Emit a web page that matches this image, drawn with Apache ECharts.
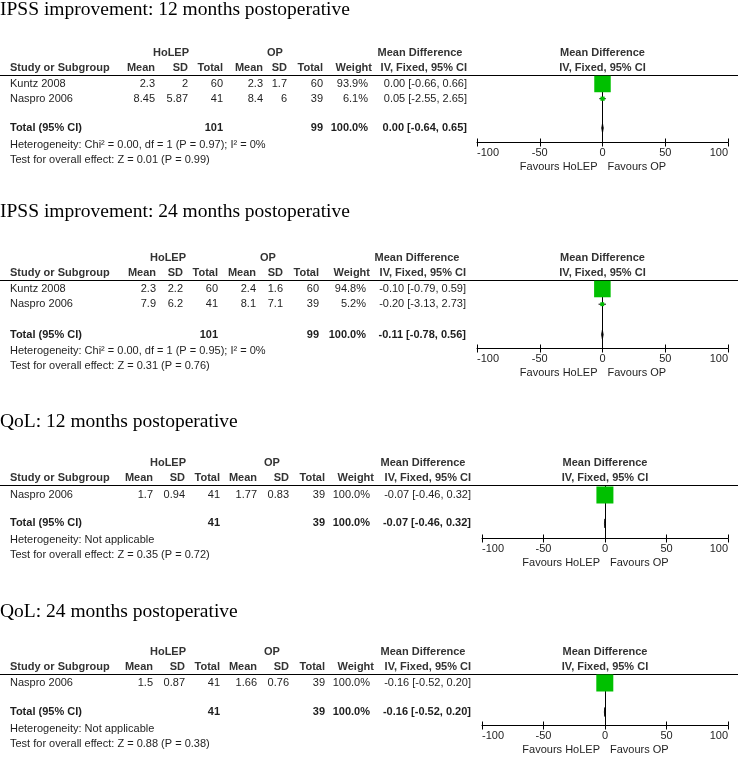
<!DOCTYPE html>
<html>
<head>
<meta charset="utf-8">
<script src="https://cdn.jsdelivr.net/npm/echarts@6/dist/echarts.min.js"></script>
<style>
  html, body { margin: 0; padding: 0; background: #fff; }
  #chart { width: 738px; height: 763px; }
</style>
</head>
<body>
<div id="chart"></div>
<script>
// data (one entry per panel)
const titles = [
  'IPSS improvement: 12 months postoperative',
  'IPSS improvement: 24 months postoperative',
  'QoL: 12 months postoperative',
  'QoL: 24 months postoperative'
]
const studyNames = [['Kuntz 2008', 'Naspro 2006'], ['Kuntz 2008', 'Naspro 2006'], ['Naspro 2006'], ['Naspro 2006']]
const holepMean = [[2.3, 8.45], [2.3, 7.9], [1.7], [1.5]]
const holepSd = [[2, 5.87], [2.2, 6.2], [0.94], [0.87]]
const holepTotal = [[60, 41], [60, 41], [41], [41]]
const opMean = [[2.3, 8.4], [2.4, 8.1], [1.77], [1.66]]
const opSd = [[1.7, 6], [1.6, 7.1], [0.83], [0.76]]
const opTotal = [[60, 39], [60, 39], [39], [39]]
const weights = [[93.9, 6.1], [94.8, 5.2], [100], [100]]
const meanDiff = [[0.00, 0.05], [-0.10, -0.20], [-0.07], [-0.16]]
const ciLow = [[-0.66, -2.55], [-0.79, -3.13], [-0.46], [-0.52]]
const ciHigh = [[0.66, 2.65], [0.59, 2.73], [0.32], [0.20]]
const totalHolep = [101, 101, 41, 41]
const totalOp = [99, 99, 39, 39]
const pooledMd = [0.00, -0.11, -0.07, -0.16]
const pooledLow = [-0.64, -0.78, -0.46, -0.52]
const pooledHigh = [0.65, 0.56, 0.32, 0.20]
const heterogeneity = [
  'Heterogeneity: Chi² = 0.00, df = 1 (P = 0.97); I² = 0%',
  'Heterogeneity: Chi² = 0.00, df = 1 (P = 0.95); I² = 0%',
  'Heterogeneity: Not applicable',
  'Heterogeneity: Not applicable'
]
const overallTest = [
  'Test for overall effect: Z = 0.01 (P = 0.99)',
  'Test for overall effect: Z = 0.31 (P = 0.76)',
  'Test for overall effect: Z = 0.35 (P = 0.72)',
  'Test for overall effect: Z = 0.88 (P = 0.38)'
]
const axisMin = -100
const axisMax = 100
const axisStep = 50

// layout per panel (pixels)
const layout = [
  { titleY: 10, lineY: 75.5, axisY: 142.5, rowY: 84, rowPx: 14.7, axisL: 477, cols: [155, 188, 223, 263, 287, 323, 368, 467], holep: 171, op: 275, mdC: 420 },
  { titleY: 212, lineY: 280.5, axisY: 348.5, rowY: 289, rowPx: 15.2, axisL: 477, cols: [156, 183, 218, 256, 283, 319, 366, 466], holep: 168, op: 268, mdC: 417 },
  { titleY: 422, lineY: 485.5, axisY: 538.5, rowY: 495, rowPx: 14.2, axisL: 482, cols: [153, 185, 220, 257, 289, 325, 370, 471], holep: 168, op: 272, mdC: 423 },
  { titleY: 612, lineY: 674.5, axisY: 725.5, rowY: 683, rowPx: 14.5, axisL: 482, cols: [153, 185, 220, 257, 289, 325, 370, 471], holep: 168, op: 272, mdC: 423 }
]

const GREEN = '#00c000'
const TXT = '#1e1e1e'
const F = "11px 'Liberation Sans', Arial, sans-serif"
const FB = "bold 11px 'Liberation Sans', Arial, sans-serif"

const chart = echarts.init(document.getElementById('chart'))

const txt = (x, y, text, align, font, fill) => ({
  type: 'text', x, y, silent: true,
  style: { text, font: font || F, fill: fill || TXT, textAlign: align || 'left', textVerticalAlign: 'middle' }
})

const graphics = []
const grids = []
const xAxes = []
const yAxes = []
const series = []

const fmt = v => v.toFixed(2)
const ciText = (m, l, h) => fmt(m) + ' [' + fmt(l) + ', ' + fmt(h) + ']'

titles.forEach((title, p) => {
  const L = layout[p]
  const c = L.cols
  const n = studyNames[p].length
  const totalIdx = n + 1
  const plotC = (L.axisL + 728) / 2

  graphics.push(txt(0, L.titleY, title, 'left', "19.5px 'Liberation Serif', 'Times New Roman', serif", '#000'))

  // header rows
  const h1 = L.lineY - 23
  const h2 = L.lineY - 7.5
  graphics.push(txt(L.holep, h1, 'HoLEP', 'center', FB, '#333'))
  graphics.push(txt(L.op, h1, 'OP', 'center', FB, '#333'))
  graphics.push(txt(L.mdC, h1, 'Mean Difference', 'center', FB, '#333'))
  graphics.push(txt(plotC, h1, 'Mean Difference', 'center', FB, '#333'))
  graphics.push(txt(10, h2, 'Study or Subgroup', 'left', FB, '#333'))
  const heads = ['Mean', 'SD', 'Total', 'Mean', 'SD', 'Total', 'Weight']
  heads.forEach((h, i) => graphics.push(txt(c[i] + (i === 6 ? 4 : 0), h2, h, 'right', FB, '#333')))
  graphics.push(txt(c[7], h2, 'IV, Fixed, 95% CI', 'right', FB, '#333'))
  graphics.push(txt(plotC, h2, 'IV, Fixed, 95% CI', 'center', FB, '#333'))
  graphics.push({
    type: 'line', silent: true,
    shape: { x1: 0, y1: L.lineY, x2: 738, y2: L.lineY },
    style: { stroke: '#000', lineWidth: 1 }
  })

  // study rows
  studyNames[p].forEach((name, i) => {
    const y = L.rowY + i * L.rowPx
    const vals = [holepMean[p][i], holepSd[p][i], holepTotal[p][i], opMean[p][i], opSd[p][i], opTotal[p][i]]
    graphics.push(txt(10, y, name))
    vals.forEach((v, k) => graphics.push(txt(c[k], y, String(v), 'right')))
    graphics.push(txt(c[6], y, weights[p][i].toFixed(1) + '%', 'right'))
    graphics.push(txt(c[7], y, ciText(meanDiff[p][i], ciLow[p][i], ciHigh[p][i]), 'right'))
  })

  // total row
  const ty = L.rowY + totalIdx * L.rowPx
  graphics.push(txt(10, ty, 'Total (95% CI)', 'left', FB))
  graphics.push(txt(c[2], ty, String(totalHolep[p]), 'right', FB))
  graphics.push(txt(c[5], ty, String(totalOp[p]), 'right', FB))
  graphics.push(txt(c[6], ty, '100.0%', 'right', FB))
  graphics.push(txt(c[7], ty, ciText(pooledMd[p], pooledLow[p], pooledHigh[p]), 'right', FB))
  graphics.push(txt(10, ty + 16.5, heterogeneity[p]))
  graphics.push(txt(10, ty + 31.5, overallTest[p]))

  // favours labels
  const zeroX = plotC
  graphics.push(txt(zeroX - 5, L.axisY + 24, 'Favours HoLEP', 'right'))
  graphics.push(txt(zeroX + 5, L.axisY + 24, 'Favours OP', 'left'))

  // plot area
  const yMin = -(L.rowY - L.lineY) / L.rowPx
  const yMax = yMin + (L.axisY - L.lineY) / L.rowPx
  grids.push({ left: L.axisL, right: 10, top: L.lineY, height: L.axisY - L.lineY })
  xAxes.push({
    type: 'value', gridIndex: p, position: 'bottom',
    min: axisMin, max: axisMax, interval: axisStep,
    splitLine: { show: false },
    axisLine: { onZero: false, lineStyle: { color: '#000', width: 1 } },
    axisTick: { length: 4, lineStyle: { color: '#000' } },
    axisLabel: { color: TXT, fontSize: 11, fontFamily: "'Liberation Sans', Arial, sans-serif", margin: 5, alignMinLabel: 'left', alignMaxLabel: 'right' }
  })
  xAxes.push({
    type: 'value', gridIndex: p, position: 'bottom',
    min: axisMin, max: axisMax, interval: axisStep,
    splitLine: { show: false },
    axisLine: { show: false, onZero: false },
    axisTick: { inside: true, length: 4, lineStyle: { color: '#000' } },
    axisLabel: { show: false }
  })
  yAxes.push({ type: 'value', gridIndex: p, inverse: true, min: yMin, max: yMax, show: false })

  // zero line (kept beneath the squares)
  series.push({
    type: 'line', xAxisIndex: p * 2, yAxisIndex: p, data: [], z: 1, silent: true,
    markLine: {
      silent: true, symbol: 'none', z: 1, label: { show: false },
      lineStyle: { color: '#000', type: 'solid', width: 1 },
      data: [{ xAxis: 0 }]
    }
  })

  // studies: CI line under a weighted square
  series.push({
    type: 'custom', xAxisIndex: p * 2, yAxisIndex: p, z: 10, silent: true,
    data: studyNames[p].map((_, i) => [meanDiff[p][i], i, ciLow[p][i], ciHigh[p][i], weights[p][i]]),
    renderItem: (params, api) => {
      const y = api.value(1)
      const a = api.coord([api.value(2), y])
      const b = api.coord([api.value(3), y])
      const m = api.coord([api.value(0), y])
      const s = 17 * Math.sqrt(api.value(4) / 100)
      return {
        type: 'group',
        children: [
          { type: 'line', shape: { x1: a[0], y1: a[1], x2: b[0], y2: b[1] }, style: { stroke: '#000', lineWidth: 1 } },
          { type: 'rect', shape: { x: m[0] - s / 2, y: m[1] - s / 2, width: s, height: s }, style: { fill: GREEN } }
        ]
      }
    }
  })

  // pooled diamond
  series.push({
    type: 'custom', xAxisIndex: p * 2, yAxisIndex: p, z: 10, silent: true,
    data: [[pooledMd[p], totalIdx, pooledLow[p], pooledHigh[p]]],
    renderItem: (params, api) => {
      const y = api.value(1)
      const a = api.coord([api.value(2), y])
      const b = api.coord([api.value(3), y])
      const m = api.coord([api.value(0), y])
      return {
        type: 'polygon',
        shape: { points: [[a[0], a[1]], [m[0], m[1] - 4.5], [b[0], b[1]], [m[0], m[1] + 4.5]] },
        style: { fill: '#000', stroke: '#000', lineWidth: 0.8 }
      }
    }
  })
})

chart.setOption({
  animation: false,
  grid: grids,
  xAxis: xAxes,
  yAxis: yAxes,
  series,
  graphic: { elements: graphics }
})
</script>
</body>
</html>
